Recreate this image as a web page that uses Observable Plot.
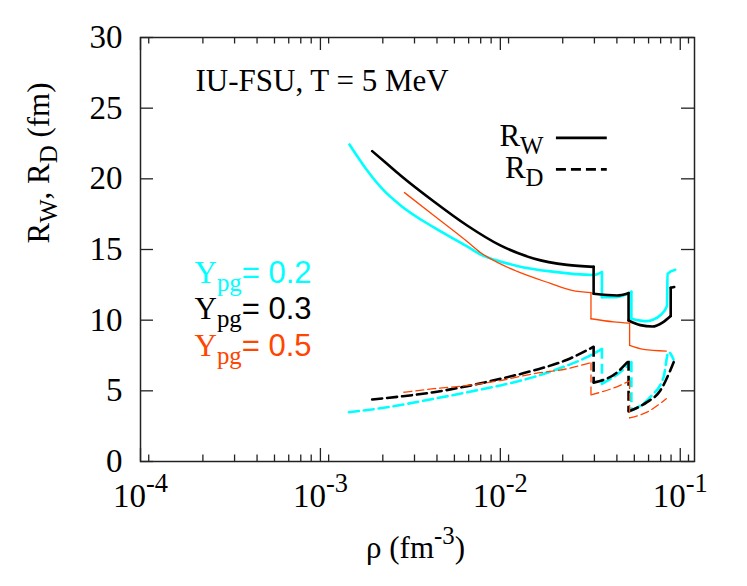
<!DOCTYPE html>
<html><head><meta charset="utf-8">
<script src="https://cdn.jsdelivr.net/npm/d3@7"></script>
<script src="https://cdn.jsdelivr.net/npm/@observablehq/plot@0.6"></script>
<style>
body{margin:0;background:#fff}
svg{display:block}
svg text, svg text tspan{font-family:"Liberation Serif","Times New Roman",serif !important}
svg text tspan.sans{font-family:"Liberation Sans",Arial,sans-serif !important}
</style>
</head><body><div id="chart"></div>
<script>
// ---------- data ----------
// Y_pg = 0.2 (cyan)
const rhoW02 = [1.45e-3, 1.82e-3, 2.25e-3, 2.79e-3, 4.27e-3, 6.54e-3, 7.75e-3, 1.0e-2, 1.24e-2, 1.90e-2, 3.30e-2, 3.67e-2, 3.67e-2, 4.26e-2, 5.06e-2, 5.35e-2, 5.35e-2, 6.0e-2, 6.53e-2, 7.1e-2, 7.75e-2, 8.44e-2, 8.50e-2, 9.38e-2];
const RW02   = [22.43, 20.59, 19.18, 18.12, 16.56, 15.22, 14.65, 14.15, 13.84, 13.45, 13.2, 13.4, 11.63, 11.62, 11.85, 12.0, 10.1, 9.97, 9.93, 10.05, 10.35, 11.0, 13.28, 13.57];
const rhoD02 = [1.44e-3, 2.25e-3, 4.27e-3, 6.54e-3, 1.0e-2, 1.53e-2, 2.35e-2, 3.03e-2, 3.67e-2, 3.67e-2, 4.45e-2, 5.35e-2, 5.35e-2, 6.81e-2, 8.08e-2, 8.61e-2, 9.18e-2];
const RD02   = [3.49, 3.80, 4.44, 4.90, 5.38, 5.97, 6.79, 7.38, 7.97, 5.50, 6.15, 7.03, 3.61, 4.55, 5.97, 7.74, 7.2];
// Y_pg = 0.3 (black)
const rhoW03 = [1.94e-3, 2.30e-3, 2.79e-3, 4.27e-3, 6.54e-3, 1.0e-2, 1.53e-2, 2.35e-2, 3.30e-2, 3.30e-2, 4.45e-2, 5.16e-2, 5.16e-2, 6.0e-2, 7.0e-2, 8.0e-2, 8.85e-2, 8.85e-2, 9.26e-2];
const RW03   = [21.96, 21.16, 20.24, 18.40, 16.70, 15.29, 14.37, 13.91, 13.77, 11.87, 11.75, 11.91, 9.98, 9.65, 9.55, 9.85, 10.3, 12.29, 12.34];
const rhoD03 = [1.94e-3, 2.79e-3, 4.27e-3, 6.54e-3, 1.0e-2, 1.53e-2, 2.35e-2, 3.30e-2, 3.30e-2, 4.45e-2, 5.16e-2, 5.16e-2, 6.53e-2, 7.75e-2, 8.80e-2, 9.26e-2];
const RD03   = [4.39, 4.60, 4.90, 5.33, 5.85, 6.44, 7.20, 8.12, 5.58, 6.3, 7.12, 3.55, 4.2, 5.02, 6.44, 7.12];
// Y_pg = 0.5 (orange-red)
const rhoW05 = [2.93e-3, 4.27e-3, 6.54e-3, 7.75e-3, 1.0e-2, 1.24e-2, 1.90e-2, 2.5e-2, 3.19e-2, 3.19e-2, 4.26e-2, 5.23e-2, 5.23e-2, 6.25e-2, 8.36e-2];
const RW05   = [19.03, 17.41, 15.57, 14.79, 13.98, 13.45, 12.60, 12.1, 11.95, 10.1, 9.88, 9.79, 8.21, 7.93, 7.81];
const rhoD05 = [2.91e-3, 4.27e-3, 6.54e-3, 1.0e-2, 1.53e-2, 2.35e-2, 3.19e-2, 3.19e-2, 4.26e-2, 5.23e-2, 5.23e-2, 6.53e-2, 8.36e-2];
const RD05   = [4.90, 5.15, 5.38, 5.73, 6.21, 6.56, 7.0, 4.72, 5.2, 5.7, 3.08, 3.49, 4.44];

// ticks and labels
const xMajor = [1e-4, 1e-3, 1e-2, 1e-1];
const yTicks = [0, 5, 10, 15, 20, 25, 30];
const legendLabels = ["Y_{pg}~{= 0.2}", "Y_{pg}~{= 0.3}", "Y_{pg}~{= 0.5}"];
const keyLabels = ["R_{W}", "R_{D}"];
const xTitle = "ρ (fm^{-3})";
const yTitle = "R_{W}, R_{D} (fm)";
const note = "IU-FSU, T = 5 MeV";

// ---------- layout / style ----------
const W = 747, H = 586;
const mL = 140, mR = 53, mT = 37, mB = 125;
const pw = W - mL - mR, ph = H - mT - mB;
const CYAN = "#00ffff", BLACK = "#000000", ORANGE = "#ff4500";
const FS = 31, TFS = 33;
const keyRho = [0.0205, 0.0393];  // legend sample extent (data space)
const keyR = [22.9, 20.67];

const xMinor = [];
for (const e of [-4, -3, -2, -1]) for (let k = 1; k <= 8; k++) {
  const v = k * Math.pow(10, e + 1) / 9;
  if (v <= 0.12) xMinor.push(v);
}

// split a series at its discontinuities (repeated density = vertical jump)
function build(rho, R) {
  const pts = [], jumps = [];
  let seg = 0;
  for (let i = 0; i < rho.length; i++) {
    if (i > 0 && rho[i] === rho[i - 1]) { jumps.push({rho: rho[i], R1: R[i - 1], R2: R[i]}); seg++; }
    pts.push({rho: rho[i], R: R[i], seg});
  }
  return {pts, jumps};
}
function curve(rho, R, style) {
  const {pts, jumps} = build(rho, R);
  return [
    Plot.line(pts, {x: "rho", y: "R", z: "seg", curve: "monotone-x", ...style}),
    Plot.link(jumps, {x1: "rho", x2: "rho", y1: "R1", y2: "R2", ...style})
  ];
}
const solidStyle = (c, w) => ({stroke: c, strokeWidth: w, strokeLinecap: "round", strokeLinejoin: "round"});
const dashStyle = (c, w, d) => ({stroke: c, strokeWidth: w, strokeDasharray: d});

const axisColor = "#222";
const txt = (label, opts) => Plot.text([label], {text: d => d, fontSize: FS, lineAnchor: "bottom", ...opts});

const chart = Plot.plot({
  width: W, height: H,
  marginLeft: mL, marginRight: mR, marginTop: mT, marginBottom: mB,
  style: {fontSize: FS + "px", background: "#fff", overflow: "visible"},
  x: {type: "log", domain: [1e-4, 0.12]},
  y: {domain: [0, 30]},
  marks: [
    // curves
    ...curve(rhoW02, RW02, solidStyle(CYAN, 2.6)),
    ...curve(rhoW03, RW03, solidStyle(BLACK, 2.6)),
    ...curve(rhoW05, RW05, solidStyle(ORANGE, 1.3)),
    ...curve(rhoD02, RD02, dashStyle(CYAN, 2.6, "10,5")),
    ...curve(rhoD03, RD03, dashStyle(BLACK, 2.6, "10,5")),
    ...curve(rhoD05, RD05, dashStyle(ORANGE, 1.3, "8,4")),
    // ticks (inward, mirrored)
    Plot.tickX(xMajor, {x: d => d, stroke: axisColor, strokeWidth: 1.3, insetTop: ph - 13}),
    Plot.tickX(xMajor, {x: d => d, stroke: axisColor, strokeWidth: 1.3, insetBottom: ph - 13}),
    Plot.tickX(xMinor, {x: d => d, stroke: axisColor, strokeWidth: 1.3, insetTop: ph - 6.5}),
    Plot.tickX(xMinor, {x: d => d, stroke: axisColor, strokeWidth: 1.3, insetBottom: ph - 6.5}),
    Plot.tickY(yTicks, {y: d => d, stroke: axisColor, strokeWidth: 1.3, insetRight: pw - 13}),
    Plot.tickY(yTicks, {y: d => d, stroke: axisColor, strokeWidth: 1.3, insetLeft: pw - 13}),
    Plot.frame({stroke: axisColor, strokeWidth: 1.5}),
    // tick labels
    Plot.axisX(xMajor, {tickSize: 0, tickPadding: 22, fontSize: TFS, label: null,
      tickFormat: d => `10^{${Math.round(Math.log10(d))}}`}),
    Plot.axisY(yTicks, {tickSize: 0, tickPadding: 18, fontSize: TFS, label: null}),
    // axis titles
    txt(xTitle, {frameAnchor: "bottom", dx: -2, dy: 96}),
    txt(yTitle, {frameAnchor: "left", rotate: -90, dx: -92, dy: -6}),
    // annotation
    txt(note, {frameAnchor: "top-left", textAnchor: "start", dx: 55, dy: 53}),
    // Y_pg legend
    txt(legendLabels[0], {frameAnchor: "top-left", textAnchor: "start", dx: 54, dy: 245, fill: CYAN}),
    txt(legendLabels[1], {frameAnchor: "top-left", textAnchor: "start", dx: 54, dy: 281, fill: BLACK}),
    txt(legendLabels[2], {frameAnchor: "top-left", textAnchor: "start", dx: 54, dy: 318, fill: ORANGE}),
    // line-style key
    txt(keyLabels[0], {frameAnchor: "top-left", textAnchor: "end", dx: 403, dy: 108}),
    txt(keyLabels[1], {frameAnchor: "top-left", textAnchor: "end", dx: 403, dy: 140}),
    Plot.ruleY([keyR[0]], {y: d => d, x1: keyRho[0], x2: keyRho[1], stroke: BLACK, strokeWidth: 2.6}),
    Plot.ruleY([keyR[1]], {y: d => d, x1: keyRho[0], x2: keyRho[1], stroke: BLACK, strokeWidth: 2.6, strokeDasharray: "10,5"})
  ]
});

// rich text: _{sub}, ^{sup}, ~{sans}
function richify(el) {
  const s = el.textContent;
  if (!/[_^~]\{/.test(s)) return;
  const base = parseFloat(getComputedStyle(el).fontSize) || FS;
  el.textContent = "";
  const re = /([_^~])\{([^}]*)\}|([^_^~]+|[_^~])/g;
  let m, off = 0;
  while ((m = re.exec(s))) {
    const t = document.createElementNS("http://www.w3.org/2000/svg", "tspan");
    let shift = 0;
    if (m[1]) {
      t.textContent = m[2];
      if (m[1] === "_") { shift = base * 0.28; t.setAttribute("font-size", base * 0.8); }
      else if (m[1] === "^") { shift = -base * 0.45; t.setAttribute("font-size", base * 0.8); }
      else { t.setAttribute("class", "sans"); }
    } else t.textContent = m[3];
    const dy = shift - off;
    if (dy) t.setAttribute("dy", dy);
    off = shift;
    el.appendChild(t);
  }
}
document.getElementById("chart").appendChild(chart);
chart.querySelectorAll("text").forEach(richify);
</script>
</body></html>
